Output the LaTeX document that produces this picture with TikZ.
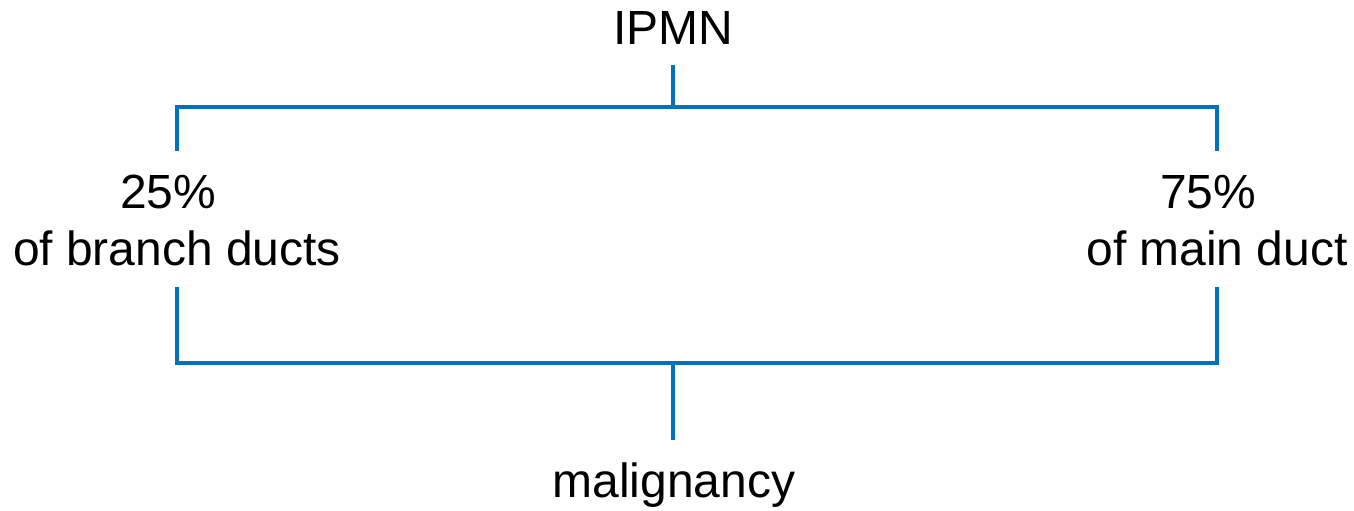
\documentclass[tikz,border=0pt]{standalone}
\usepackage{fontspec}
\setmainfont{Liberation Sans}
\definecolor{linkblue}{HTML}{0070C0}
\begin{document}
\begin{tikzpicture}[x=0.02cm,y=-0.02cm,
    lbl/.style={inner sep=0pt,anchor=base,font=\fontsize{27.3pt}{32.4pt}\selectfont},
    link/.style={draw=linkblue,line width=1.9pt}]
  \useasboundingbox (0,0) rectangle (1354,510);

  % labels
  \node[lbl] (ipmn)   at (673,45)  {IPMN};
  \node[lbl] (bpct)   at (168,208) {25\%};
  \node[lbl] (branch) at (177,265) {of branch ducts};
  \node[lbl] (mpct)   at (1208,208) {75\%};
  \node[lbl] (main)   at (1217,265) {of main duct};
  \node[lbl] (malig)  at (674,497) {malignancy};

  % bracket joints
  \coordinate (ts) at (673,65);
  \coordinate (tj) at (673,107);
  \coordinate (tl) at (177,107);
  \coordinate (tr) at (1217,107);
  \coordinate (la) at (177,151);
  \coordinate (ra) at (1217,151);
  \coordinate (lb) at (177,287);
  \coordinate (rb) at (1217,287);
  \coordinate (bl) at (177,363);
  \coordinate (br) at (1217,363);
  \coordinate (bj) at (673,363);
  \coordinate (be) at (673,440);

  % upper split
  \draw[link] (ts) -- (tj);
  \draw[link] (la) -- (tl) -- (tr) -- (ra);
  % lower merge
  \draw[link] (lb) -- (bl) -- (br) -- (rb);
  \draw[link] (bj) -- (be);
\end{tikzpicture}
\end{document}
